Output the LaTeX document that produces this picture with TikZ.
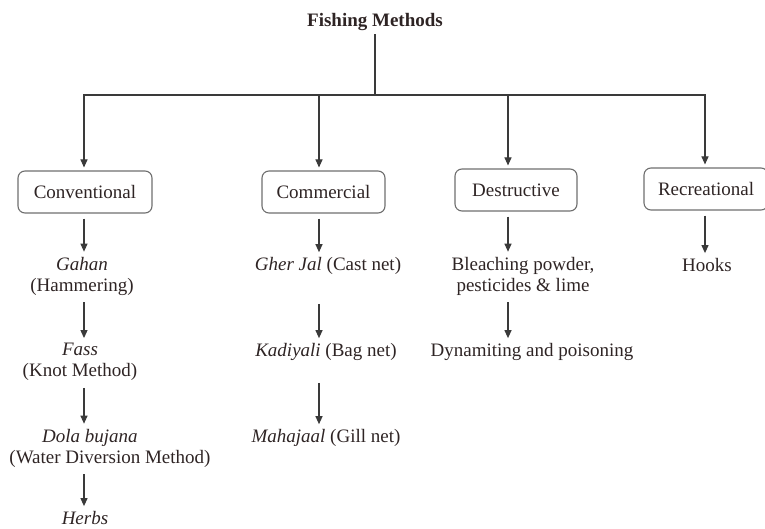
\documentclass[tikz,border=0pt]{standalone}
\usepackage{fontspec}
\setmainfont{Liberation Serif}
\usetikzlibrary{arrows.meta}
\definecolor{txt}{HTML}{2E2424}
\definecolor{ln}{HTML}{3A3A3A}
\definecolor{bx}{HTML}{6E6E6E}
\begin{document}
\begin{tikzpicture}[x=1pt,y=-1pt,
  every node/.style={text=txt,font=\fontsize{19}{21}\selectfont},
  catbox/.style={draw=bx,line width=1.1pt,rounded corners=7pt,minimum height=42pt,inner sep=0pt},
  item/.style={align=center,inner sep=2pt},
  link/.style={draw=ln,line width=1.1pt},
  arr/.style={link,-{Triangle[length=8pt,width=7pt]}},
  sub/.style={arr,shorten <=5pt,shorten >=3pt}
]
\useasboundingbox (0,0) rectangle (765,529);
% title and bus
\node[font=\bfseries\fontsize{19}{21}\selectfont] (title) at (375,22) {Fishing Methods};
\coordinate (bus) at (375,95);
% column x positions
\coordinate (c1) at (84,0);
\coordinate (c2) at (319,0);
\coordinate (c3) at (508,0);
\coordinate (c4) at (705,0);
% category boxes
\node[catbox,minimum width=134pt] (conv) at (85,192) {Conventional};
\node[catbox,minimum width=123pt] (comm) at (323.5,192) {Commercial};
\node[catbox,minimum width=122pt] (dest) at (516,190) {Destructive};
\node[catbox,minimum width=124pt] (rec) at (706,189) {Recreational};
% items
\node[item] (gahan) at (82,276) {\textit{Gahan}\\(Hammering)};
\node[item] (fass) at (80,362) {\textit{Fass}\\(Knot Method)};
\node[item] (dola) at (110,448) {\textit{Dola bujana}\hspace*{40pt}\\(Water Diversion Method)};
\node[item] (herbs) at (85,518) {\textit{Herbs}};
\node[item] (gher) at (328,266) {\textit{Gher Jal} (Cast net)};
\node[item] (kadi) at (326,352) {\textit{Kadiyali} (Bag net)};
\node[item] (maha) at (326,438) {\textit{Mahajaal} (Gill net)};
\node[item] (bleach) at (523,276) {Bleaching powder,\\pesticides \& lime};
\node[item] (dyn) at (532,352) {Dynamiting and poisoning};
\node[item] (hooks) at (707,265) {Hooks};
% connectors from title
\draw[link] (title.south) -- (bus);
\draw[arr,shorten >=3pt] (bus) -| (conv.north -| c1);
\draw[arr,shorten >=3pt] (bus) -| (comm.north -| c2);
\draw[arr,shorten >=3pt] (bus) -| (dest.north -| c3);
\draw[arr,shorten >=3pt] (bus) -| (rec.north -| c4);
% conventional chain
\draw[sub] (conv.south -| c1) -- (gahan.north -| c1);
\draw[sub] (gahan.south -| c1) -- (fass.north -| c1);
\draw[sub] (fass.south -| c1) -- (dola.north -| c1);
\draw[sub] (dola.south -| c1) -- (herbs.north -| c1);
% commercial chain
\draw[sub] (comm.south -| c2) -- (gher.north -| c2);
\draw[sub,shorten <=27pt] (gher.south -| c2) -- (kadi.north -| c2);
\draw[sub,shorten <=20pt] (kadi.south -| c2) -- (maha.north -| c2);
% destructive chain
\draw[sub] (dest.south -| c3) -- (bleach.north -| c3);
\draw[sub] (bleach.south -| c3) -- (dyn.north -| c3);
% recreational
\draw[sub] (rec.south -| c4) -- (hooks.north -| c4);
\end{tikzpicture}
\end{document}
